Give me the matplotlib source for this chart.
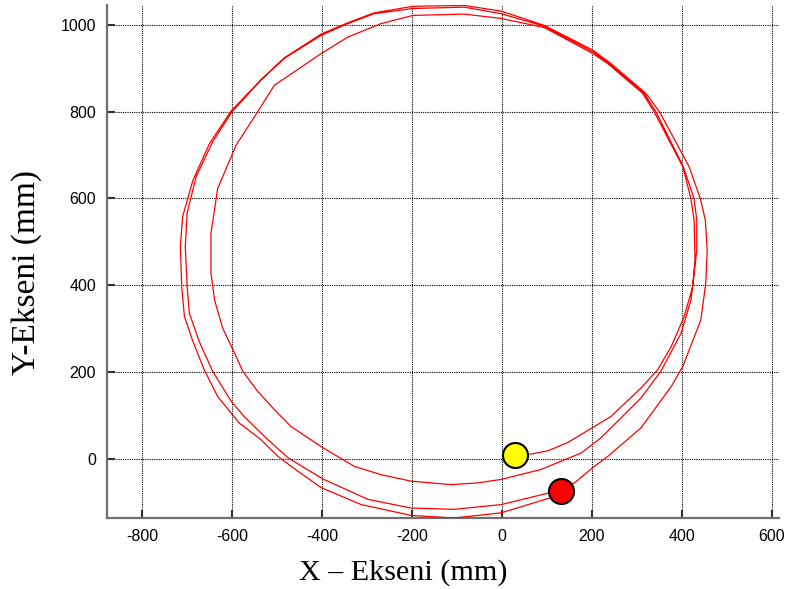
import matplotlib
matplotlib.use("Agg")
import matplotlib.pyplot as plt

plt.rcParams["axes.unicode_minus"] = False

# Measured end-effector path (mm), three laps counter-clockwise
x_mm = [29, 57, 102, 146, 242, 309, 346, 376, 405, 424, 429, 427, 420, 402, 338, 313,
        235, 202, 94, -2, -84, -198, -269, -343, -402, -462, -506, -543, -591, -632,
        -647, -647, -639, -621, -598, -576, -543, -506, -469, -398, -328, -269, -202,
        -113, -54, -2, 87, 176,
        220, 309, 353, 398, 420, 433, 433, 427, 403, 342, 316, 238, 202, 94, -2, -84,
        -198, -284, -343, -402, -484, -536, -600, -643, -680, -700, -704, -700, -695,
        -673, -643, -602, -573, -528, -476, -398, -298, -202, -106, -2, 109,
        161, 205, 235, 309, 376, 402, 442, 453, 456, 452, 441, 416, 350, 320, 242, 202,
        94, -2, -84, -198, -284, -343, -402, -484, -536, -602, -650, -687, -710, -715,
        -712, -706, -687, -662, -632, -602, -584, -536, -498, -454, -402, -313, -202,
        -106, -2, 109, 131]
y_mm = [8, 9, 18, 37, 97, 163, 205, 258, 328, 397, 458, 550, 599, 673, 800, 842,
        911, 934, 994, 1015, 1025, 1022, 1003, 972, 934, 892, 861, 800, 723, 623,
        520, 428, 366, 301, 251, 201, 155, 113, 74, 25, -18, -37, -52,
        -60, -56, -48, -25, 13,
        48, 140, 201, 289, 366, 481, 550, 599, 673, 800, 842, 911, 938, 997, 1026, 1041,
        1038, 1026, 1003, 976, 923, 873, 800, 731, 650, 566, 489, 397, 335,
        270, 201, 132, 97, 51, 2, -47, -94, -114, -117, -106, -78,
        -56, -18, 5, 71, 166, 213, 320, 405, 481, 550, 599, 673, 800, 842, 911, 942,
        999, 1032, 1045, 1043, 1028, 1005, 979, 924, 873, 802, 727, 642, 558, 489,
        397, 328, 270, 205, 143, 105, 82, 44, 5, -29, -67, -106, -131,
        -137, -125, -90, -75]

x_ticks = [-800, -600, -400, -200, 0, 200, 400, 600]
y_ticks = [0, 200, 400, 600, 800, 1000]
x_label = "X – Ekseni (mm)"
y_label = "Y-Ekseni (mm)"

fig = plt.figure(figsize=(7.87, 5.89), dpi=100)
ax = fig.add_axes([0.136, 0.1205, 0.854, 0.871])

ax.plot(x_mm, y_mm, color="red", lw=0.9, zorder=3)
ax.plot(x_mm[0], y_mm[0], "o", ms=18, mfc="yellow", mec="black", mew=1.5, zorder=4)
ax.plot(x_mm[-1], y_mm[-1], "o", ms=18, mfc="red", mec="black", mew=1.5, zorder=4)

ax.set_xlim(-878, 616)
ax.set_ylim(-137, 1046)
ax.set_xticks(x_ticks)
ax.set_yticks(y_ticks)

ax.grid(True, color="black", linestyle=(0, (1, 1)), linewidth=0.8)
ax.set_axisbelow(True)

for side in ("top", "right"):
    ax.spines[side].set_visible(False)
for side in ("left", "bottom"):
    ax.spines[side].set_color("#707070")
    ax.spines[side].set_linewidth(1.6)

ax.tick_params(direction="in", length=6, width=1.5, color="#303030",
               labelsize=11.5, pad=8)
for lbl in ax.get_xticklabels() + ax.get_yticklabels():
    lbl.set_family("Liberation Sans")

fig.text(0.513, 0.028, x_label, family="Liberation Serif", fontsize=21.7,
         ha="center", va="center")
fig.text(0.034, 0.538, y_label, family="Liberation Serif", fontsize=24,
         rotation=90, ha="center", va="center")

fig.savefig("out.png", dpi=100)
